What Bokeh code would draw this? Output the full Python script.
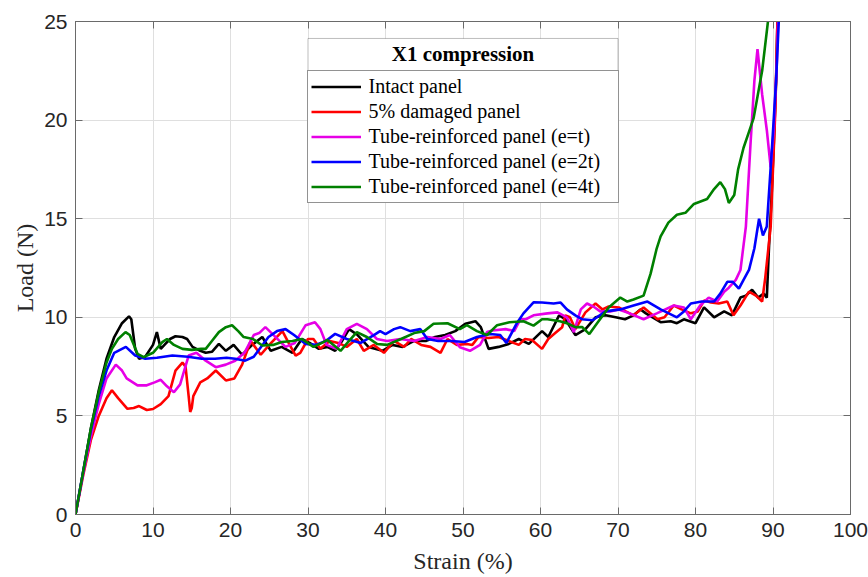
from bokeh.plotting import figure
from bokeh.models import (Legend, LegendItem, LinearAxis, Range1d, FixedTicker,
                          BoxAnnotation, Label)
from bokeh.embed import file_html
from bokeh.resources import INLINE

# ---------------- data ----------------
x_ticks = [0, 10, 20, 30, 40, 50, 60, 70, 80, 90, 100]
y_ticks = [0, 5, 10, 15, 20, 25]

series_names = ["Intact panel", "5% damaged panel", "Tube-reinforced panel (e=t)",
                "Tube-reinforced panel (e=2t)", "Tube-reinforced panel (e=4t)"]
series_colors = ["#000000", "#ff0000", "#e600e6", "#0000ff", "#008000"]

intact_x = [0, 1, 2, 3, 4, 5, 6, 6.9, 7.2, 7.7, 8.2, 9.0, 10.0, 10.5, 11.0, 11.6, 12.2, 12.9,
            13.8, 14.4, 15.1, 16.1, 16.8, 17.6, 18.5, 19.4, 20.4, 21.5, 22.8, 24.1, 25.2, 26.6,
            28.0, 29.2, 30.2, 31.4, 32.5, 33.5, 34.4, 35.3, 36.4, 37.8, 39.6, 40.9, 42.2, 43.7,
            45.2, 46.4, 47.7, 49.0, 50.3, 51.6, 52.3, 53.3, 54.6, 55.9, 57.2, 58.5, 60.2, 61.0,
            62.4, 63.2, 64.5, 65.8, 67.1, 68.4, 69.7, 70.9, 72.0, 72.9, 73.6, 75.5, 76.8, 77.6,
            78.5, 80.0, 81.1, 82.4, 83.7, 84.7, 85.8, 86.5, 87.3, 88.1, 88.8, 89.2, 89.5, 89.8,
            90.1, 90.4, 90.6]
intact_y = [0, 2.2, 4.4, 6.3, 7.9, 9.0, 9.7, 10.05, 9.9, 8.4, 7.9, 8.0, 8.6, 9.25, 8.4, 8.65,
            8.9, 9.04, 9.0, 8.9, 8.5, 8.3, 8.2, 8.25, 8.65, 8.3, 8.6, 8.1, 8.6, 9.0, 8.3, 8.5,
            8.2, 8.9, 8.7, 8.4, 8.5, 8.3, 8.8, 9.4, 9.1, 8.5, 8.3, 8.6, 8.5, 8.8, 8.8, 9.0, 9.1,
            9.3, 9.67, 9.8, 9.5, 8.4, 8.5, 8.65, 8.9, 8.65, 9.3, 9.0, 10.1, 9.9, 9.1, 9.4, 10.0,
            10.1, 10.0, 9.9, 10.1, 10.4, 10.2, 9.75, 9.8, 9.7, 9.9, 9.7, 10.5, 10.0, 10.3, 10.1,
            11.0, 11.1, 11.4, 11.0, 11.2, 11.0, 13.7, 16.0, 18.8, 22.0, 25.5]

damaged_x = [0, 1, 2, 3, 4, 4.7, 5.5, 6.7, 7.5, 8.2, 9.2, 10.0, 11.0, 12.0, 12.9, 13.8, 14.2,
             14.6, 14.8, 15.0, 15.2, 16.1, 17.0, 18.1, 19.4, 20.5, 21.5, 22.6, 23.9, 25.0, 26.7,
             27.5, 28.4, 29.0, 30.0, 30.7, 31.6, 32.8, 33.9, 35.0, 36.3, 37.2, 38.5, 39.8, 41.1,
             42.4, 43.3, 44.6, 45.8, 47.1, 48.0, 49.2, 50.5, 51.2, 52.0, 53.3, 54.6, 55.9, 57.2,
             58.0, 58.9, 60.2, 61.0, 61.9, 62.8, 63.2, 63.8, 64.5, 65.8, 67.1, 68.0, 68.8, 70.1,
             71.0, 72.0, 73.3, 75.1, 76.0, 77.2, 78.2, 79.4, 80.3, 81.1, 82.0, 83.0, 84.1, 84.9,
             85.8, 86.9, 87.8, 88.6, 89.0, 89.7, 90.3, 90.6]
damaged_y = [0, 2.0, 3.8, 5.0, 5.9, 6.3, 5.9, 5.36, 5.4, 5.5, 5.3, 5.35, 5.6, 6.0, 7.3, 7.7,
             7.5, 6.0, 5.2, 5.4, 6.0, 6.7, 6.9, 7.3, 6.8, 6.9, 7.6, 8.8, 8.1, 8.6, 9.3, 8.7,
             8.06, 8.2, 8.9, 8.9, 8.4, 8.8, 8.7, 8.5, 8.9, 8.3, 8.6, 8.2, 8.8, 8.5, 8.9, 8.6,
             8.5, 8.2, 8.9, 8.6, 8.65, 8.6, 9.0, 8.95, 9.0, 8.8, 8.6, 8.9, 8.85, 8.4, 8.9, 9.2,
             9.5, 10.1, 10.0, 9.4, 10.25, 10.7, 10.4, 10.55, 10.5, 10.3, 10.1, 10.5, 9.9, 10.0,
             10.6, 10.4, 10.2, 10.3, 10.85, 10.75, 10.7, 10.8, 10.1, 10.6, 11.3, 11.1, 10.8,
             12.0, 14.6, 20.5, 25.5]

tube_t_x = [0, 1, 2, 3, 4, 5.2, 6.0, 6.6, 8.0, 9.2, 10.2, 11.0, 11.8, 12.7, 13.5, 14.6, 15.6,
            16.8, 18.1, 19.4, 20.6, 21.8, 23.0, 23.7, 24.5, 25.3, 27.1, 28.3, 29.7, 30.9, 31.6,
            32.4, 33.7, 35.0, 36.3, 37.6, 38.9, 40.2, 41.9, 43.7, 45.4, 47.1, 48.3, 49.6, 50.9,
            52.2, 53.1, 53.8, 55.5, 56.6, 57.4, 58.1, 59.1, 60.9, 62.2, 63.4, 64.3, 65.2, 66.0,
            67.0, 67.7, 69.0, 70.1, 71.5, 73.3, 75.0, 77.2, 78.5, 79.4, 80.6, 81.7, 82.8, 83.7,
            84.3, 85.2, 85.8, 86.5, 87.1, 87.6, 88.0, 88.6, 89.2, 89.7, 90.1, 90.5, 90.7]
tube_t_y = [0, 2.1, 4.0, 5.6, 6.9, 7.6, 7.3, 6.9, 6.55, 6.55, 6.7, 6.83, 6.5, 6.2, 6.6, 8.06,
            8.2, 7.8, 7.47, 7.6, 7.8, 8.2, 9.1, 9.2, 9.5, 9.2, 8.5, 8.7, 9.6, 9.75, 9.4, 8.6,
            8.4, 9.4, 9.67, 9.4, 8.9, 8.8, 8.9, 8.8, 9.0, 8.9, 9.1, 8.48, 8.3, 8.6, 9.25, 9.33,
            9.4, 9.3, 9.9, 9.9, 10.1, 10.2, 10.25, 10.0, 9.25, 10.4, 10.7, 10.5, 10.3, 10.3,
            10.4, 10.2, 9.9, 10.2, 10.6, 10.5, 9.9, 10.6, 11.0, 10.8, 11.3, 11.5, 11.9, 12.4,
            14.6, 18.8, 22.0, 23.6, 21.3, 19.5, 17.6, 19.5, 23.0, 25.5]

tube_2t_x = [0, 1, 2, 3, 4, 5, 6.0, 6.5, 7.7, 9.0, 10.5, 12.5, 14.5, 16.3, 18.0, 19.5, 20.6,
             21.9, 23.0, 24.9, 26.0, 27.1, 28.2, 29.7, 31.0, 32.3, 33.5, 35.0, 36.8, 38.5, 39.3,
             40.0, 41.1, 41.9, 43.2, 44.5, 45.4, 46.8, 48.5, 50.2, 51.8, 53.5, 54.8, 55.6, 56.9,
             57.8, 59.1, 60.2, 61.7, 62.6, 63.4, 64.5, 65.4, 66.7, 68.4, 70.3, 72.0, 73.8, 75.5,
             77.6, 78.5, 79.4, 80.8, 82.4, 83.2, 84.1, 84.8, 85.6, 86.2, 86.9, 87.6, 88.2, 88.7,
             89.2, 89.9, 90.4, 90.8]
tube_2t_y = [0, 2.2, 4.3, 6.0, 7.3, 8.2, 8.4, 8.5, 8.06, 7.9, 7.95, 8.06, 8.0, 7.9, 7.9, 7.95,
             7.9, 7.8, 8.0, 9.0, 9.3, 9.4, 9.1, 8.65, 8.6, 8.8, 9.16, 8.9, 8.7, 9.1, 9.3, 9.15,
             9.4, 9.5, 9.3, 9.4, 8.9, 8.8, 8.8, 8.75, 9.0, 9.15, 9.1, 8.7, 9.67, 10.2, 10.76,
             10.75, 10.7, 10.75, 10.4, 10.1, 9.9, 9.85, 10.3, 10.4, 10.6, 10.8, 10.4, 10.0, 10.3,
             10.7, 10.8, 10.8, 11.2, 11.8, 11.8, 11.45, 11.9, 12.4, 13.5, 15.0, 14.15, 14.6,
             18.8, 22.0, 25.5]

tube_4t_x = [0, 1, 2, 3, 4, 4.7, 5.5, 6.45, 7.0, 8.0, 8.8, 10.0, 11.2, 11.8, 12.7, 13.8, 15.0,
             16.2, 16.8, 17.6, 18.5, 19.4, 20.2, 21.0, 21.7, 22.9, 24.1, 25.5, 26.6, 28.0, 29.2,
             30.7, 31.8, 32.5, 34.2, 35.3, 36.3, 37.6, 38.9, 40.2, 42.0, 43.7, 45.0, 46.2, 48.0,
             49.6, 50.5, 51.8, 53.1, 54.4, 56.0, 57.8, 59.1, 60.2, 60.9, 62.5, 63.4, 64.5, 65.4,
             66.3, 67.3, 68.8, 70.3, 71.2, 72.0, 73.3, 74.2, 75.0, 75.5, 76.5, 77.6, 78.7, 79.8,
             81.5, 82.4, 83.2, 83.8, 84.3, 85.0, 85.5, 86.2, 86.9, 87.5, 88.6, 89.5]
tube_4t_y = [0, 2.2, 4.4, 6.2, 7.7, 8.4, 8.9, 9.25, 9.1, 8.15, 7.98, 8.2, 8.74, 8.9, 8.6, 8.4,
             8.35, 8.4, 8.4, 8.8, 9.25, 9.5, 9.6, 9.3, 9.0, 8.9, 8.57, 8.6, 8.75, 8.8, 8.9, 8.5,
             8.7, 8.85, 8.3, 8.8, 9.25, 9.0, 8.65, 8.6, 8.9, 9.2, 9.3, 9.67, 9.7, 9.4, 9.6, 9.3,
             9.1, 9.6, 9.75, 9.8, 9.58, 9.9, 9.9, 9.8, 9.7, 9.5, 9.5, 9.15, 9.7, 10.5, 11.0,
             10.8, 10.9, 11.1, 12.2, 13.5, 14.1, 14.8, 15.2, 15.3, 15.75, 16.0, 16.5, 16.85,
             16.5, 15.8, 16.2, 17.5, 18.6, 19.4, 20.1, 22.5, 25.5]

series_x = [intact_x, damaged_x, tube_t_x, tube_2t_x, tube_4t_x]
series_y = [intact_y, damaged_y, tube_t_y, tube_2t_y, tube_4t_y]

# ---------------- figure ----------------
AX = "#262626"
EDGE = "#6a6a6a"
SANS = "Liberation Sans"
SERIF = "Liberation Serif"

p = figure(width=868, height=577, output_backend="svg", toolbar_location=None,
           x_range=Range1d(0, 100), y_range=Range1d(0, 25),
           min_border_left=75, min_border_right=18, min_border_top=21,
           min_border_bottom=63)
p.background_fill_color = "white"
p.border_fill_color = "white"
p.outline_line_color = EDGE
p.outline_line_width = 1

xt = FixedTicker(ticks=x_ticks)
yt = FixedTicker(ticks=y_ticks)

for ax, tk in ((p.xaxis[0], xt), (p.yaxis[0], yt)):
    ax.ticker = tk
    ax.major_tick_in = 7
    ax.major_tick_out = 0
    ax.minor_tick_line_color = None
    ax.axis_line_color = EDGE
    ax.major_tick_line_color = EDGE
    ax.major_label_text_font = SANS
    ax.major_label_text_font_size = "21px"
    ax.major_label_text_color = AX
    ax.axis_label_text_font = SERIF
    ax.axis_label_text_font_size = "24px"
    ax.axis_label_text_font_style = "normal"
    ax.axis_label_text_color = AX

p.xaxis.axis_label = "Strain (%)"
p.yaxis.axis_label = "Load (N)"
p.xaxis.major_label_standoff = 8
p.xaxis.axis_label_standoff = 8
p.yaxis.major_label_standoff = 8
p.yaxis.axis_label_standoff = 3

# tick-only mirror axes (no labels) on top and right, as in the boxed original
for loc, tk in (("above", xt), ("right", yt)):
    a = LinearAxis(ticker=tk, major_tick_in=7, major_tick_out=0,
                   minor_tick_line_color=None, axis_line_color=EDGE,
                   major_tick_line_color=EDGE,
                   major_label_text_font_size="1px", major_label_text_color=None,
                   major_label_standoff=0)
    p.add_layout(a, loc)

p.xgrid.ticker = xt
p.ygrid.ticker = yt
p.xgrid.grid_line_color = "#dfdfdf"
p.ygrid.grid_line_color = "#dfdfdf"

renderers = []
for xs, ys, c in zip(series_x, series_y, series_colors):
    r = p.line(xs, ys, line_color=c, line_width=2.6)
    renderers.append(r)

legend = Legend(items=[LegendItem(label=n, renderers=[r]) for n, r in zip(series_names, renderers)],
                location="top_center", margin=49, padding=3, spacing=0,
                glyph_width=50, glyph_height=25, label_height=25, label_width=246,
                label_standoff=8,
                label_text_font=SERIF, label_text_font_size="20px", label_text_color="#000000",
                border_line_color=AX, border_line_width=1,
                background_fill_color="white", background_fill_alpha=1)
p.add_layout(legend, "center")

# legend title box (decoration)
title_box = BoxAnnotation(left=30.0, right=70.0, top=24.14, bottom=22.515,
                          fill_color="white", fill_alpha=1,
                          line_color=AX, line_width=1, level="overlay")
p.add_layout(title_box)
p.add_layout(Label(x=50, y=23.33, text="X1 compression", text_align="center",
                   text_baseline="middle", text_font=SERIF, text_font_size="21px",
                   text_font_style="bold", text_color="#000000", level="overlay"))

open("out.html", "w").write(file_html(p, INLINE))
